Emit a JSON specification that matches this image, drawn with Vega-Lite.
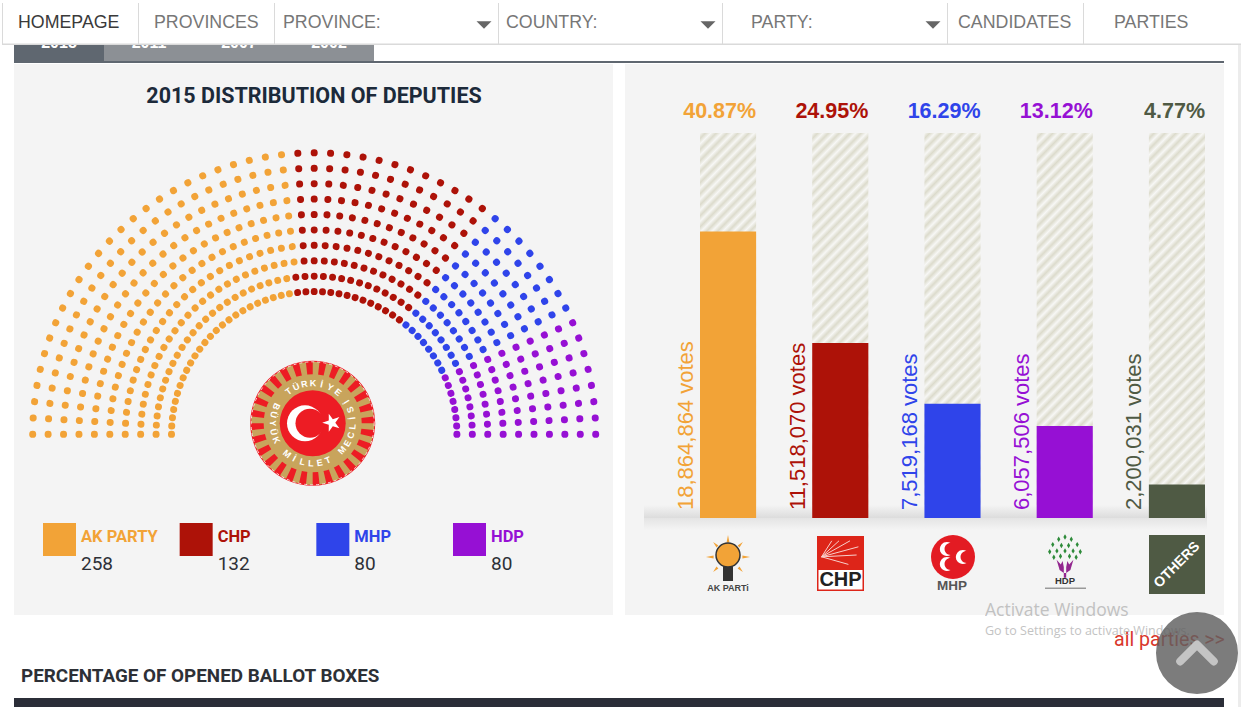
{"$schema":"https://vega.github.io/schema/vega-lite/v6.json","width":1241,"height":707,"padding":0,"autosize":{"type":"fit","contains":"padding"},"background":"#ffffff","config":{"view":{"stroke":null}},
"resolve":{"scale":{"x":"independent","y":"independent","fill":"independent","stroke":"independent","color":"independent","theta":"independent","radius":"independent","angle":"independent"}},
"datasets":{
"results":[{"party":"AK","share":0.4087,"votes":"18,864,864 votes"},{"party":"CHP","share":0.2495,"votes":"11,518,070 votes"},{"party":"MHP","share":0.1629,"votes":"7,519,168 votes"},{"party":"HDP","share":0.1312,"votes":"6,057,506 votes"},{"party":"OTHERS","share":0.0477,"votes":"2,200,031 votes"}],
"legend":[{"party":"AK PARTY","seats":258},{"party":"CHP","seats":132},{"party":"MHP","seats":80},{"party":"HDP","seats":80}],
"tabs":[{"year":"2015"},{"year":"2011"},{"year":"2007"},{"year":"2002"}],
"ring":[{"char":"T","pos":-37,"turn":323},{"char":"Ü","pos":-24.5,"turn":335.5},{"char":"R","pos":-12,"turn":348},{"char":"K","pos":0.5,"turn":0.5},{"char":"İ","pos":13,"turn":13},{"char":"Y","pos":26,"turn":26},{"char":"E","pos":39,"turn":39},{"char":"B","pos":-65,"turn":115},{"char":"Ü","pos":-77.5,"turn":102.5},{"char":"Y","pos":-90,"turn":90},{"char":"Ü","pos":-102.5,"turn":77.5},{"char":"K","pos":-115,"turn":65},{"char":"M","pos":-140,"turn":40},{"char":"İ","pos":-152.5,"turn":27.5},{"char":"L","pos":-165,"turn":15},{"char":"L","pos":-177.5,"turn":2.5},{"char":"E","pos":-190,"turn":350},{"char":"T","pos":-202.5,"turn":337.5},{"char":"M","pos":-227.5,"turn":312.5},{"char":"E","pos":-240,"turn":300},{"char":"C","pos":-252.5,"turn":287.5},{"char":"L","pos":-265,"turn":275},{"char":"İ","pos":-277.5,"turn":262.5},{"char":"S","pos":-290,"turn":250},{"char":"İ","pos":-302.5,"turn":237.5}],
"seats":[
{"party":"AK","row":0,"seat":0},{"party":"AK","row":0,"seat":1},{"party":"AK","row":0,"seat":2},{"party":"AK","row":0,"seat":3},{"party":"AK","row":0,"seat":4},{"party":"AK","row":0,"seat":5},{"party":"AK","row":0,"seat":6},{"party":"AK","row":0,"seat":7},{"party":"AK","row":0,"seat":8},{"party":"AK","row":0,"seat":9},{"party":"AK","row":0,"seat":10},{"party":"AK","row":0,"seat":11},{"party":"AK","row":0,"seat":12},{"party":"AK","row":0,"seat":13},{"party":"AK","row":0,"seat":14},{"party":"AK","row":0,"seat":15},{"party":"AK","row":0,"seat":16},{"party":"AK","row":0,"seat":17},{"party":"AK","row":0,"seat":18},{"party":"AK","row":0,"seat":19},{"party":"AK","row":0,"seat":20},{"party":"AK","row":0,"seat":21},{"party":"AK","row":0,"seat":22},{"party":"AK","row":0,"seat":23},{"party":"AK","row":0,"seat":24},{"party":"CHP","row":0,"seat":25},{"party":"CHP","row":0,"seat":26},{"party":"CHP","row":0,"seat":27},{"party":"CHP","row":0,"seat":28},{"party":"CHP","row":0,"seat":29},{"party":"CHP","row":0,"seat":30},{"party":"CHP","row":0,"seat":31},{"party":"CHP","row":0,"seat":32},{"party":"CHP","row":0,"seat":33},{"party":"CHP","row":0,"seat":34},{"party":"CHP","row":0,"seat":35},{"party":"CHP","row":0,"seat":36},{"party":"CHP","row":0,"seat":37},{"party":"CHP","row":0,"seat":38},{"party":"MHP","row":0,"seat":39},{"party":"MHP","row":0,"seat":40},{"party":"MHP","row":0,"seat":41},{"party":"MHP","row":0,"seat":42},{"party":"MHP","row":0,"seat":43},{"party":"MHP","row":0,"seat":44},{"party":"MHP","row":0,"seat":45},{"party":"MHP","row":0,"seat":46},{"party":"HDP","row":0,"seat":47},{"party":"HDP","row":0,"seat":48},{"party":"HDP","row":0,"seat":49},{"party":"HDP","row":0,"seat":50},{"party":"HDP","row":0,"seat":51},{"party":"HDP","row":0,"seat":52},{"party":"HDP","row":0,"seat":53},{"party":"HDP","row":0,"seat":54},
{"party":"AK","row":1,"seat":0},{"party":"AK","row":1,"seat":1},{"party":"AK","row":1,"seat":2},{"party":"AK","row":1,"seat":3},{"party":"AK","row":1,"seat":4},{"party":"AK","row":1,"seat":5},{"party":"AK","row":1,"seat":6},{"party":"AK","row":1,"seat":7},{"party":"AK","row":1,"seat":8},{"party":"AK","row":1,"seat":9},{"party":"AK","row":1,"seat":10},{"party":"AK","row":1,"seat":11},{"party":"AK","row":1,"seat":12},{"party":"AK","row":1,"seat":13},{"party":"AK","row":1,"seat":14},{"party":"AK","row":1,"seat":15},{"party":"AK","row":1,"seat":16},{"party":"AK","row":1,"seat":17},{"party":"AK","row":1,"seat":18},{"party":"AK","row":1,"seat":19},{"party":"AK","row":1,"seat":20},{"party":"AK","row":1,"seat":21},{"party":"AK","row":1,"seat":22},{"party":"AK","row":1,"seat":23},{"party":"AK","row":1,"seat":24},{"party":"CHP","row":1,"seat":25},{"party":"CHP","row":1,"seat":26},{"party":"CHP","row":1,"seat":27},{"party":"CHP","row":1,"seat":28},{"party":"CHP","row":1,"seat":29},{"party":"CHP","row":1,"seat":30},{"party":"CHP","row":1,"seat":31},{"party":"CHP","row":1,"seat":32},{"party":"CHP","row":1,"seat":33},{"party":"CHP","row":1,"seat":34},{"party":"CHP","row":1,"seat":35},{"party":"CHP","row":1,"seat":36},{"party":"CHP","row":1,"seat":37},{"party":"CHP","row":1,"seat":38},{"party":"MHP","row":1,"seat":39},{"party":"MHP","row":1,"seat":40},{"party":"MHP","row":1,"seat":41},{"party":"MHP","row":1,"seat":42},{"party":"MHP","row":1,"seat":43},{"party":"MHP","row":1,"seat":44},{"party":"MHP","row":1,"seat":45},{"party":"MHP","row":1,"seat":46},{"party":"HDP","row":1,"seat":47},{"party":"HDP","row":1,"seat":48},{"party":"HDP","row":1,"seat":49},{"party":"HDP","row":1,"seat":50},{"party":"HDP","row":1,"seat":51},{"party":"HDP","row":1,"seat":52},{"party":"HDP","row":1,"seat":53},{"party":"HDP","row":1,"seat":54},
{"party":"AK","row":2,"seat":0},{"party":"AK","row":2,"seat":1},{"party":"AK","row":2,"seat":2},{"party":"AK","row":2,"seat":3},{"party":"AK","row":2,"seat":4},{"party":"AK","row":2,"seat":5},{"party":"AK","row":2,"seat":6},{"party":"AK","row":2,"seat":7},{"party":"AK","row":2,"seat":8},{"party":"AK","row":2,"seat":9},{"party":"AK","row":2,"seat":10},{"party":"AK","row":2,"seat":11},{"party":"AK","row":2,"seat":12},{"party":"AK","row":2,"seat":13},{"party":"AK","row":2,"seat":14},{"party":"AK","row":2,"seat":15},{"party":"AK","row":2,"seat":16},{"party":"AK","row":2,"seat":17},{"party":"AK","row":2,"seat":18},{"party":"AK","row":2,"seat":19},{"party":"AK","row":2,"seat":20},{"party":"AK","row":2,"seat":21},{"party":"AK","row":2,"seat":22},{"party":"AK","row":2,"seat":23},{"party":"AK","row":2,"seat":24},{"party":"AK","row":2,"seat":25},{"party":"CHP","row":2,"seat":26},{"party":"CHP","row":2,"seat":27},{"party":"CHP","row":2,"seat":28},{"party":"CHP","row":2,"seat":29},{"party":"CHP","row":2,"seat":30},{"party":"CHP","row":2,"seat":31},{"party":"CHP","row":2,"seat":32},{"party":"CHP","row":2,"seat":33},{"party":"CHP","row":2,"seat":34},{"party":"CHP","row":2,"seat":35},{"party":"CHP","row":2,"seat":36},{"party":"CHP","row":2,"seat":37},{"party":"CHP","row":2,"seat":38},{"party":"MHP","row":2,"seat":39},{"party":"MHP","row":2,"seat":40},{"party":"MHP","row":2,"seat":41},{"party":"MHP","row":2,"seat":42},{"party":"MHP","row":2,"seat":43},{"party":"MHP","row":2,"seat":44},{"party":"MHP","row":2,"seat":45},{"party":"MHP","row":2,"seat":46},{"party":"HDP","row":2,"seat":47},{"party":"HDP","row":2,"seat":48},{"party":"HDP","row":2,"seat":49},{"party":"HDP","row":2,"seat":50},{"party":"HDP","row":2,"seat":51},{"party":"HDP","row":2,"seat":52},{"party":"HDP","row":2,"seat":53},{"party":"HDP","row":2,"seat":54},
{"party":"AK","row":3,"seat":0},{"party":"AK","row":3,"seat":1},{"party":"AK","row":3,"seat":2},{"party":"AK","row":3,"seat":3},{"party":"AK","row":3,"seat":4},{"party":"AK","row":3,"seat":5},{"party":"AK","row":3,"seat":6},{"party":"AK","row":3,"seat":7},{"party":"AK","row":3,"seat":8},{"party":"AK","row":3,"seat":9},{"party":"AK","row":3,"seat":10},{"party":"AK","row":3,"seat":11},{"party":"AK","row":3,"seat":12},{"party":"AK","row":3,"seat":13},{"party":"AK","row":3,"seat":14},{"party":"AK","row":3,"seat":15},{"party":"AK","row":3,"seat":16},{"party":"AK","row":3,"seat":17},{"party":"AK","row":3,"seat":18},{"party":"AK","row":3,"seat":19},{"party":"AK","row":3,"seat":20},{"party":"AK","row":3,"seat":21},{"party":"AK","row":3,"seat":22},{"party":"AK","row":3,"seat":23},{"party":"AK","row":3,"seat":24},{"party":"AK","row":3,"seat":25},{"party":"CHP","row":3,"seat":26},{"party":"CHP","row":3,"seat":27},{"party":"CHP","row":3,"seat":28},{"party":"CHP","row":3,"seat":29},{"party":"CHP","row":3,"seat":30},{"party":"CHP","row":3,"seat":31},{"party":"CHP","row":3,"seat":32},{"party":"CHP","row":3,"seat":33},{"party":"CHP","row":3,"seat":34},{"party":"CHP","row":3,"seat":35},{"party":"CHP","row":3,"seat":36},{"party":"CHP","row":3,"seat":37},{"party":"CHP","row":3,"seat":38},{"party":"MHP","row":3,"seat":39},{"party":"MHP","row":3,"seat":40},{"party":"MHP","row":3,"seat":41},{"party":"MHP","row":3,"seat":42},{"party":"MHP","row":3,"seat":43},{"party":"MHP","row":3,"seat":44},{"party":"MHP","row":3,"seat":45},{"party":"MHP","row":3,"seat":46},{"party":"HDP","row":3,"seat":47},{"party":"HDP","row":3,"seat":48},{"party":"HDP","row":3,"seat":49},{"party":"HDP","row":3,"seat":50},{"party":"HDP","row":3,"seat":51},{"party":"HDP","row":3,"seat":52},{"party":"HDP","row":3,"seat":53},{"party":"HDP","row":3,"seat":54},
{"party":"AK","row":4,"seat":0},{"party":"AK","row":4,"seat":1},{"party":"AK","row":4,"seat":2},{"party":"AK","row":4,"seat":3},{"party":"AK","row":4,"seat":4},{"party":"AK","row":4,"seat":5},{"party":"AK","row":4,"seat":6},{"party":"AK","row":4,"seat":7},{"party":"AK","row":4,"seat":8},{"party":"AK","row":4,"seat":9},{"party":"AK","row":4,"seat":10},{"party":"AK","row":4,"seat":11},{"party":"AK","row":4,"seat":12},{"party":"AK","row":4,"seat":13},{"party":"AK","row":4,"seat":14},{"party":"AK","row":4,"seat":15},{"party":"AK","row":4,"seat":16},{"party":"AK","row":4,"seat":17},{"party":"AK","row":4,"seat":18},{"party":"AK","row":4,"seat":19},{"party":"AK","row":4,"seat":20},{"party":"AK","row":4,"seat":21},{"party":"AK","row":4,"seat":22},{"party":"AK","row":4,"seat":23},{"party":"AK","row":4,"seat":24},{"party":"AK","row":4,"seat":25},{"party":"CHP","row":4,"seat":26},{"party":"CHP","row":4,"seat":27},{"party":"CHP","row":4,"seat":28},{"party":"CHP","row":4,"seat":29},{"party":"CHP","row":4,"seat":30},{"party":"CHP","row":4,"seat":31},{"party":"CHP","row":4,"seat":32},{"party":"CHP","row":4,"seat":33},{"party":"CHP","row":4,"seat":34},{"party":"CHP","row":4,"seat":35},{"party":"CHP","row":4,"seat":36},{"party":"CHP","row":4,"seat":37},{"party":"CHP","row":4,"seat":38},{"party":"MHP","row":4,"seat":39},{"party":"MHP","row":4,"seat":40},{"party":"MHP","row":4,"seat":41},{"party":"MHP","row":4,"seat":42},{"party":"MHP","row":4,"seat":43},{"party":"MHP","row":4,"seat":44},{"party":"MHP","row":4,"seat":45},{"party":"MHP","row":4,"seat":46},{"party":"HDP","row":4,"seat":47},{"party":"HDP","row":4,"seat":48},{"party":"HDP","row":4,"seat":49},{"party":"HDP","row":4,"seat":50},{"party":"HDP","row":4,"seat":51},{"party":"HDP","row":4,"seat":52},{"party":"HDP","row":4,"seat":53},{"party":"HDP","row":4,"seat":54},
{"party":"AK","row":5,"seat":0},{"party":"AK","row":5,"seat":1},{"party":"AK","row":5,"seat":2},{"party":"AK","row":5,"seat":3},{"party":"AK","row":5,"seat":4},{"party":"AK","row":5,"seat":5},{"party":"AK","row":5,"seat":6},{"party":"AK","row":5,"seat":7},{"party":"AK","row":5,"seat":8},{"party":"AK","row":5,"seat":9},{"party":"AK","row":5,"seat":10},{"party":"AK","row":5,"seat":11},{"party":"AK","row":5,"seat":12},{"party":"AK","row":5,"seat":13},{"party":"AK","row":5,"seat":14},{"party":"AK","row":5,"seat":15},{"party":"AK","row":5,"seat":16},{"party":"AK","row":5,"seat":17},{"party":"AK","row":5,"seat":18},{"party":"AK","row":5,"seat":19},{"party":"AK","row":5,"seat":20},{"party":"AK","row":5,"seat":21},{"party":"AK","row":5,"seat":22},{"party":"AK","row":5,"seat":23},{"party":"AK","row":5,"seat":24},{"party":"AK","row":5,"seat":25},{"party":"CHP","row":5,"seat":26},{"party":"CHP","row":5,"seat":27},{"party":"CHP","row":5,"seat":28},{"party":"CHP","row":5,"seat":29},{"party":"CHP","row":5,"seat":30},{"party":"CHP","row":5,"seat":31},{"party":"CHP","row":5,"seat":32},{"party":"CHP","row":5,"seat":33},{"party":"CHP","row":5,"seat":34},{"party":"CHP","row":5,"seat":35},{"party":"CHP","row":5,"seat":36},{"party":"CHP","row":5,"seat":37},{"party":"CHP","row":5,"seat":38},{"party":"MHP","row":5,"seat":39},{"party":"MHP","row":5,"seat":40},{"party":"MHP","row":5,"seat":41},{"party":"MHP","row":5,"seat":42},{"party":"MHP","row":5,"seat":43},{"party":"MHP","row":5,"seat":44},{"party":"MHP","row":5,"seat":45},{"party":"MHP","row":5,"seat":46},{"party":"HDP","row":5,"seat":47},{"party":"HDP","row":5,"seat":48},{"party":"HDP","row":5,"seat":49},{"party":"HDP","row":5,"seat":50},{"party":"HDP","row":5,"seat":51},{"party":"HDP","row":5,"seat":52},{"party":"HDP","row":5,"seat":53},{"party":"HDP","row":5,"seat":54},
{"party":"AK","row":6,"seat":0},{"party":"AK","row":6,"seat":1},{"party":"AK","row":6,"seat":2},{"party":"AK","row":6,"seat":3},{"party":"AK","row":6,"seat":4},{"party":"AK","row":6,"seat":5},{"party":"AK","row":6,"seat":6},{"party":"AK","row":6,"seat":7},{"party":"AK","row":6,"seat":8},{"party":"AK","row":6,"seat":9},{"party":"AK","row":6,"seat":10},{"party":"AK","row":6,"seat":11},{"party":"AK","row":6,"seat":12},{"party":"AK","row":6,"seat":13},{"party":"AK","row":6,"seat":14},{"party":"AK","row":6,"seat":15},{"party":"AK","row":6,"seat":16},{"party":"AK","row":6,"seat":17},{"party":"AK","row":6,"seat":18},{"party":"AK","row":6,"seat":19},{"party":"AK","row":6,"seat":20},{"party":"AK","row":6,"seat":21},{"party":"AK","row":6,"seat":22},{"party":"AK","row":6,"seat":23},{"party":"AK","row":6,"seat":24},{"party":"AK","row":6,"seat":25},{"party":"CHP","row":6,"seat":26},{"party":"CHP","row":6,"seat":27},{"party":"CHP","row":6,"seat":28},{"party":"CHP","row":6,"seat":29},{"party":"CHP","row":6,"seat":30},{"party":"CHP","row":6,"seat":31},{"party":"CHP","row":6,"seat":32},{"party":"CHP","row":6,"seat":33},{"party":"CHP","row":6,"seat":34},{"party":"CHP","row":6,"seat":35},{"party":"CHP","row":6,"seat":36},{"party":"CHP","row":6,"seat":37},{"party":"CHP","row":6,"seat":38},{"party":"MHP","row":6,"seat":39},{"party":"MHP","row":6,"seat":40},{"party":"MHP","row":6,"seat":41},{"party":"MHP","row":6,"seat":42},{"party":"MHP","row":6,"seat":43},{"party":"MHP","row":6,"seat":44},{"party":"MHP","row":6,"seat":45},{"party":"MHP","row":6,"seat":46},{"party":"HDP","row":6,"seat":47},{"party":"HDP","row":6,"seat":48},{"party":"HDP","row":6,"seat":49},{"party":"HDP","row":6,"seat":50},{"party":"HDP","row":6,"seat":51},{"party":"HDP","row":6,"seat":52},{"party":"HDP","row":6,"seat":53},{"party":"HDP","row":6,"seat":54},
{"party":"AK","row":7,"seat":0},{"party":"AK","row":7,"seat":1},{"party":"AK","row":7,"seat":2},{"party":"AK","row":7,"seat":3},{"party":"AK","row":7,"seat":4},{"party":"AK","row":7,"seat":5},{"party":"AK","row":7,"seat":6},{"party":"AK","row":7,"seat":7},{"party":"AK","row":7,"seat":8},{"party":"AK","row":7,"seat":9},{"party":"AK","row":7,"seat":10},{"party":"AK","row":7,"seat":11},{"party":"AK","row":7,"seat":12},{"party":"AK","row":7,"seat":13},{"party":"AK","row":7,"seat":14},{"party":"AK","row":7,"seat":15},{"party":"AK","row":7,"seat":16},{"party":"AK","row":7,"seat":17},{"party":"AK","row":7,"seat":18},{"party":"AK","row":7,"seat":19},{"party":"AK","row":7,"seat":20},{"party":"AK","row":7,"seat":21},{"party":"AK","row":7,"seat":22},{"party":"AK","row":7,"seat":23},{"party":"AK","row":7,"seat":24},{"party":"AK","row":7,"seat":25},{"party":"CHP","row":7,"seat":26},{"party":"CHP","row":7,"seat":27},{"party":"CHP","row":7,"seat":28},{"party":"CHP","row":7,"seat":29},{"party":"CHP","row":7,"seat":30},{"party":"CHP","row":7,"seat":31},{"party":"CHP","row":7,"seat":32},{"party":"CHP","row":7,"seat":33},{"party":"CHP","row":7,"seat":34},{"party":"CHP","row":7,"seat":35},{"party":"CHP","row":7,"seat":36},{"party":"CHP","row":7,"seat":37},{"party":"CHP","row":7,"seat":38},{"party":"MHP","row":7,"seat":39},{"party":"MHP","row":7,"seat":40},{"party":"MHP","row":7,"seat":41},{"party":"MHP","row":7,"seat":42},{"party":"MHP","row":7,"seat":43},{"party":"MHP","row":7,"seat":44},{"party":"MHP","row":7,"seat":45},{"party":"MHP","row":7,"seat":46},{"party":"HDP","row":7,"seat":47},{"party":"HDP","row":7,"seat":48},{"party":"HDP","row":7,"seat":49},{"party":"HDP","row":7,"seat":50},{"party":"HDP","row":7,"seat":51},{"party":"HDP","row":7,"seat":52},{"party":"HDP","row":7,"seat":53},{"party":"HDP","row":7,"seat":54},
{"party":"AK","row":8,"seat":0},{"party":"AK","row":8,"seat":1},{"party":"AK","row":8,"seat":2},{"party":"AK","row":8,"seat":3},{"party":"AK","row":8,"seat":4},{"party":"AK","row":8,"seat":5},{"party":"AK","row":8,"seat":6},{"party":"AK","row":8,"seat":7},{"party":"AK","row":8,"seat":8},{"party":"AK","row":8,"seat":9},{"party":"AK","row":8,"seat":10},{"party":"AK","row":8,"seat":11},{"party":"AK","row":8,"seat":12},{"party":"AK","row":8,"seat":13},{"party":"AK","row":8,"seat":14},{"party":"AK","row":8,"seat":15},{"party":"AK","row":8,"seat":16},{"party":"AK","row":8,"seat":17},{"party":"AK","row":8,"seat":18},{"party":"AK","row":8,"seat":19},{"party":"AK","row":8,"seat":20},{"party":"AK","row":8,"seat":21},{"party":"AK","row":8,"seat":22},{"party":"AK","row":8,"seat":23},{"party":"AK","row":8,"seat":24},{"party":"AK","row":8,"seat":25},{"party":"CHP","row":8,"seat":26},{"party":"CHP","row":8,"seat":27},{"party":"CHP","row":8,"seat":28},{"party":"CHP","row":8,"seat":29},{"party":"CHP","row":8,"seat":30},{"party":"CHP","row":8,"seat":31},{"party":"CHP","row":8,"seat":32},{"party":"CHP","row":8,"seat":33},{"party":"CHP","row":8,"seat":34},{"party":"CHP","row":8,"seat":35},{"party":"CHP","row":8,"seat":36},{"party":"CHP","row":8,"seat":37},{"party":"CHP","row":8,"seat":38},{"party":"MHP","row":8,"seat":39},{"party":"MHP","row":8,"seat":40},{"party":"MHP","row":8,"seat":41},{"party":"MHP","row":8,"seat":42},{"party":"MHP","row":8,"seat":43},{"party":"MHP","row":8,"seat":44},{"party":"MHP","row":8,"seat":45},{"party":"MHP","row":8,"seat":46},{"party":"HDP","row":8,"seat":47},{"party":"HDP","row":8,"seat":48},{"party":"HDP","row":8,"seat":49},{"party":"HDP","row":8,"seat":50},{"party":"HDP","row":8,"seat":51},{"party":"HDP","row":8,"seat":52},{"party":"HDP","row":8,"seat":53},{"party":"HDP","row":8,"seat":54},
{"party":"AK","row":9,"seat":0},{"party":"AK","row":9,"seat":1},{"party":"AK","row":9,"seat":2},{"party":"AK","row":9,"seat":3},{"party":"AK","row":9,"seat":4},{"party":"AK","row":9,"seat":5},{"party":"AK","row":9,"seat":6},{"party":"AK","row":9,"seat":7},{"party":"AK","row":9,"seat":8},{"party":"AK","row":9,"seat":9},{"party":"AK","row":9,"seat":10},{"party":"AK","row":9,"seat":11},{"party":"AK","row":9,"seat":12},{"party":"AK","row":9,"seat":13},{"party":"AK","row":9,"seat":14},{"party":"AK","row":9,"seat":15},{"party":"AK","row":9,"seat":16},{"party":"AK","row":9,"seat":17},{"party":"AK","row":9,"seat":18},{"party":"AK","row":9,"seat":19},{"party":"AK","row":9,"seat":20},{"party":"AK","row":9,"seat":21},{"party":"AK","row":9,"seat":22},{"party":"AK","row":9,"seat":23},{"party":"AK","row":9,"seat":24},{"party":"AK","row":9,"seat":25},{"party":"CHP","row":9,"seat":26},{"party":"CHP","row":9,"seat":27},{"party":"CHP","row":9,"seat":28},{"party":"CHP","row":9,"seat":29},{"party":"CHP","row":9,"seat":30},{"party":"CHP","row":9,"seat":31},{"party":"CHP","row":9,"seat":32},{"party":"CHP","row":9,"seat":33},{"party":"CHP","row":9,"seat":34},{"party":"CHP","row":9,"seat":35},{"party":"CHP","row":9,"seat":36},{"party":"CHP","row":9,"seat":37},{"party":"CHP","row":9,"seat":38},{"party":"MHP","row":9,"seat":39},{"party":"MHP","row":9,"seat":40},{"party":"MHP","row":9,"seat":41},{"party":"MHP","row":9,"seat":42},{"party":"MHP","row":9,"seat":43},{"party":"MHP","row":9,"seat":44},{"party":"MHP","row":9,"seat":45},{"party":"MHP","row":9,"seat":46},{"party":"HDP","row":9,"seat":47},{"party":"HDP","row":9,"seat":48},{"party":"HDP","row":9,"seat":49},{"party":"HDP","row":9,"seat":50},{"party":"HDP","row":9,"seat":51},{"party":"HDP","row":9,"seat":52},{"party":"HDP","row":9,"seat":53},{"party":"HDP","row":9,"seat":54}
]},
"layer":[
{"data":{"values":[{"panel":"deputies"}]},"mark":{"type":"rect","x":14,"x2":613,"y":64,"y2":615,"fill":"#f4f4f4"},"encoding":{}},
{"data":{"values":[{"panel":"votes"}]},"mark":{"type":"rect","x":625,"x2":1224,"y":64,"y2":615,"fill":"#f4f4f4"},"encoding":{}},
{"data":{"name":"tabs"},"mark":{"type":"rect","y":30,"y2":62},"encoding":{"x":{"field":"year","type":"nominal","sort":null,"axis":null,"scale":{"type":"band","domain":["2015","2011","2007","2002"],"range":[14,374],"padding":0}},"fill":{"field":"year","type":"nominal","legend":null,"scale":{"domain":["2015","2011","2007","2002"],"range":["#5f6770","#8c9095","#8c9095","#8c9095"]}}}},
{"data":{"name":"tabs"},"mark":{"type":"text","y":48,"baseline":"alphabetic","font":"Liberation Sans","fontSize":16,"fontWeight":"bold","fill":"#ffffff"},"encoding":{"x":{"field":"year","type":"nominal","sort":null,"axis":null,"scale":{"type":"band","domain":["2015","2011","2007","2002"],"range":[14,374],"padding":0}},"text":{"field":"year"}}},
{"data":{"values":[{"part":"rule"}]},"mark":{"type":"rect","x":14,"x2":1224,"y":61,"y2":63,"fill":"#5f6770"},"encoding":{}},
{"data":{"values":[{"part":"nav"}]},"mark":{"type":"rect","x":0,"x2":1241,"y":0,"y2":44,"fill":"#ffffff"},"encoding":{}},
{"data":{"values":[{"part":"nav"}]},"mark":{"type":"rect","x":2,"x2":1241,"y":43.5,"y2":45,"fill":"#dadada"},"encoding":{}},
{"data":{"values":[{"part":"scroll"}]},"mark":{"type":"rect","x":1238,"x2":1241,"y":45,"y2":707,"fill":"#ececec"},"encoding":{}},
{"data":{"values":[{"sep":1}]},"mark":{"type":"rect","x":2,"x2":3,"y":3,"y2":44,"fill":"#dadada"},"encoding":{}},
{"data":{"values":[{"sep":2}]},"mark":{"type":"rect","x":138,"x2":139,"y":3,"y2":44,"fill":"#dadada"},"encoding":{}},
{"data":{"values":[{"sep":3}]},"mark":{"type":"rect","x":274,"x2":275,"y":3,"y2":44,"fill":"#dadada"},"encoding":{}},
{"data":{"values":[{"sep":4}]},"mark":{"type":"rect","x":498,"x2":499,"y":3,"y2":44,"fill":"#dadada"},"encoding":{}},
{"data":{"values":[{"sep":5}]},"mark":{"type":"rect","x":722,"x2":723,"y":3,"y2":44,"fill":"#dadada"},"encoding":{}},
{"data":{"values":[{"sep":6}]},"mark":{"type":"rect","x":947,"x2":948,"y":3,"y2":44,"fill":"#dadada"},"encoding":{}},
{"data":{"values":[{"sep":7}]},"mark":{"type":"rect","x":1083,"x2":1084,"y":3,"y2":44,"fill":"#dadada"},"encoding":{}},
{"data":{"values":[{"label":"HOMEPAGE"}]},"mark":{"type":"text","x":18,"y":23,"align":"left","font":"Liberation Sans","fontSize":17.8,"fill":"#3a3a3a"},"encoding":{"text":{"field":"label"}}},
{"data":{"values":[{"label":"PROVINCES"}]},"mark":{"type":"text","x":154,"y":23,"align":"left","font":"Liberation Sans","fontSize":17.8,"fill":"#777777"},"encoding":{"text":{"field":"label"}}},
{"data":{"values":[{"label":"PROVINCE:"}]},"mark":{"type":"text","x":283,"y":23,"align":"left","font":"Liberation Sans","fontSize":17.8,"fill":"#777777"},"encoding":{"text":{"field":"label"}}},
{"data":{"values":[{"label":"COUNTRY:"}]},"mark":{"type":"text","x":506,"y":23,"align":"left","font":"Liberation Sans","fontSize":17.8,"fill":"#777777"},"encoding":{"text":{"field":"label"}}},
{"data":{"values":[{"label":"PARTY:"}]},"mark":{"type":"text","x":751,"y":23,"align":"left","font":"Liberation Sans","fontSize":17.8,"fill":"#777777"},"encoding":{"text":{"field":"label"}}},
{"data":{"values":[{"label":"CANDIDATES"}]},"mark":{"type":"text","x":958,"y":23,"align":"left","font":"Liberation Sans","fontSize":17.8,"fill":"#777777"},"encoding":{"text":{"field":"label"}}},
{"data":{"values":[{"label":"PARTIES"}]},"mark":{"type":"text","x":1114,"y":23,"align":"left","font":"Liberation Sans","fontSize":17.8,"fill":"#777777"},"encoding":{"text":{"field":"label"}}},
{"data":{"values":[{"arrow":1}]},"mark":{"type":"point","filled":true,"shape":"M-1 -.5L1 -.5L0 .5Z","size":225,"x":484,"y":25,"fill":"#666666","opacity":1},"encoding":{}},
{"data":{"values":[{"arrow":2}]},"mark":{"type":"point","filled":true,"shape":"M-1 -.5L1 -.5L0 .5Z","size":225,"x":708,"y":25,"fill":"#666666","opacity":1},"encoding":{}},
{"data":{"values":[{"arrow":3}]},"mark":{"type":"point","filled":true,"shape":"M-1 -.5L1 -.5L0 .5Z","size":225,"x":933,"y":25,"fill":"#666666","opacity":1},"encoding":{}},
{"data":{"values":[{"title":"2015 DISTRIBUTION OF DEPUTIES"}]},"mark":{"type":"text","x":314,"y":97,"font":"Roboto","fontSize":21.5,"fontWeight":"bold","fill":"#1c2a3a"},"encoding":{"text":{"field":"title"}}},
{"data":{"name":"seats"},"mark":{"type":"arc","x":314.2,"y":434.3,"fill":null,"strokeWidth":6.7,"strokeCap":"round","strokeJoin":"round"},"encoding":{"theta":{"field":"seat","type":"ordinal","stack":null,"sort":null,"scale":{"type":"band","domain":[0,1,2,3,4,5,6,7,8,9,10,11,12,13,14,15,16,17,18,19,20,21,22,23,24,25,26,27,28,29,30,31,32,33,34,35,36,37,38,39,40,41,42,43,44,45,46,47,48,49,50,51,52,53,54],"range":[-1.59989,1.59989],"paddingInner":0.98,"paddingOuter":0.49}},"radius":{"field":"row","type":"ordinal","sort":null,"scale":{"type":"band","domain":[0,1,2,3,4,5,6,7,8,9],"range":[134.99,289.21],"paddingInner":0.98,"paddingOuter":0.49}},"stroke":{"field":"party","type":"nominal","legend":null,"scale":{"domain":["AK","CHP","MHP","HDP"],"range":["#f2a337","#ad1208","#2f44ea","#9610d4"]}}}},
{"data":{"values":[{"emblem":"disc"}]},"mark":{"type":"point","filled":true,"shape":"circle","size":15625,"x":312.7,"y":423.3,"fill":"#ed1c24","opacity":1},"encoding":{}},
{"data":{"values":[{"emblem":"rays"}]},"mark":{"type":"point","filled":false,"shape":"circle","size":11664,"x":312.7,"y":423.3,"stroke":"#c8a45c","strokeWidth":15,"strokeDash":[6,6.1],"fill":null,"opacity":1},"encoding":{}},
{"data":{"values":[{"emblem":"edge"}]},"mark":{"type":"point","filled":false,"shape":"circle","size":15129,"x":312.7,"y":423.3,"stroke":"#ffffff","strokeWidth":1,"strokeDash":[3,3],"fill":null,"opacity":0.8},"encoding":{}},
{"data":{"values":[{"emblem":"ring"}]},"mark":{"type":"point","filled":true,"shape":"circle","size":9604,"x":312.7,"y":423.3,"fill":"#c8a45c","opacity":1},"encoding":{}},
{"data":{"values":[{"emblem":"field"}]},"mark":{"type":"point","filled":true,"shape":"circle","size":4356,"x":312.7,"y":423.3,"fill":"#ed1c24","opacity":1},"encoding":{}},
{"data":{"values":[{"emblem":"moon"}]},"mark":{"type":"point","filled":true,"shape":"circle","size":1296,"x":305,"y":423.3,"fill":"#ffffff","opacity":1},"encoding":{}},
{"data":{"values":[{"emblem":"moon cut"}]},"mark":{"type":"point","filled":true,"shape":"circle","size":841,"x":310,"y":423.3,"fill":"#ed1c24","opacity":1},"encoding":{}},
{"data":{"values":[{"emblem":"star"}]},"mark":{"type":"point","filled":true,"shape":"M-1 0L-.307 .223L-.309 .951L.117 .361L.809 .588L.38 0L.809 -.588L.117 -.361L-.309 -.951L-.307 -.223Z","size":361,"x":331.7,"y":422.7,"fill":"#ffffff","opacity":1},"encoding":{}},
{"data":{"name":"ring"},"mark":{"type":"text","x":312.7,"y":423.3,"font":"Liberation Sans","fontSize":9,"fontWeight":"bold","fill":"#ffffff","align":"center","baseline":"middle"},"encoding":{"theta":{"field":"pos","type":"quantitative","stack":null,"scale":{"domain":[-360,360],"range":[-6.2832,6.2832]}},"radius":{"value":40},"angle":{"field":"turn","type":"quantitative","scale":{"domain":[0,360],"range":[0,360]}},"text":{"field":"char"}}},
{"data":{"name":"legend"},"mark":{"type":"point","filled":true,"shape":"square","size":1089,"y":539.5,"opacity":1},"encoding":{"x":{"field":"party","type":"nominal","sort":null,"axis":null,"scale":{"type":"point","domain":["AK PARTY","CHP","MHP","HDP"],"range":[59.5,469.5],"padding":0}},"fill":{"field":"party","type":"nominal","legend":null,"scale":{"domain":["AK PARTY","CHP","MHP","HDP"],"range":["#f2a337","#ad1208","#2f44ea","#9610d4"]}}}},
{"data":{"name":"legend"},"mark":{"type":"text","y":537,"dx":21.5,"align":"left","baseline":"middle","font":"Roboto","fontSize":16.5,"fontWeight":"bold"},"encoding":{"x":{"field":"party","type":"nominal","sort":null,"axis":null,"scale":{"type":"point","domain":["AK PARTY","CHP","MHP","HDP"],"range":[59.5,469.5],"padding":0}},"text":{"field":"party"},"fill":{"field":"party","type":"nominal","legend":null,"scale":{"domain":["AK PARTY","CHP","MHP","HDP"],"range":["#f2a337","#ad1208","#2f44ea","#9610d4"]}}}},
{"data":{"name":"legend"},"mark":{"type":"text","y":564,"dx":21.5,"align":"left","baseline":"middle","font":"Roboto","fontSize":19,"fill":"#2d3036"},"encoding":{"x":{"field":"party","type":"nominal","sort":null,"axis":null,"scale":{"type":"point","domain":["AK PARTY","CHP","MHP","HDP"],"range":[59.5,469.5],"padding":0}},"text":{"field":"seats"}}},
{"data":{"name":"results"},"mark":{"type":"rect","y":133,"y2":518,"fill":{"gradient":"linear","x1":0,"y1":0,"x2":0.1663,"y2":1.1234,"stops":[{"offset":0,"color":"#f7f7f5"},{"offset":0.0125,"color":"#dcdbcc"},{"offset":0.025,"color":"#f7f7f5"},{"offset":0.0375,"color":"#dcdbcc"},{"offset":0.05,"color":"#f7f7f5"},{"offset":0.0625,"color":"#dcdbcc"},{"offset":0.075,"color":"#f7f7f5"},{"offset":0.0875,"color":"#dcdbcc"},{"offset":0.1,"color":"#f7f7f5"},{"offset":0.1125,"color":"#dcdbcc"},{"offset":0.125,"color":"#f7f7f5"},{"offset":0.1375,"color":"#dcdbcc"},{"offset":0.15,"color":"#f7f7f5"},{"offset":0.1625,"color":"#dcdbcc"},{"offset":0.175,"color":"#f7f7f5"},{"offset":0.1875,"color":"#dcdbcc"},{"offset":0.2,"color":"#f7f7f5"},{"offset":0.2125,"color":"#dcdbcc"},{"offset":0.225,"color":"#f7f7f5"},{"offset":0.2375,"color":"#dcdbcc"},{"offset":0.25,"color":"#f7f7f5"},{"offset":0.2625,"color":"#dcdbcc"},{"offset":0.275,"color":"#f7f7f5"},{"offset":0.2875,"color":"#dcdbcc"},{"offset":0.3,"color":"#f7f7f5"},{"offset":0.3125,"color":"#dcdbcc"},{"offset":0.325,"color":"#f7f7f5"},{"offset":0.3375,"color":"#dcdbcc"},{"offset":0.35,"color":"#f7f7f5"},{"offset":0.3625,"color":"#dcdbcc"},{"offset":0.375,"color":"#f7f7f5"},{"offset":0.3875,"color":"#dcdbcc"},{"offset":0.4,"color":"#f7f7f5"},{"offset":0.4125,"color":"#dcdbcc"},{"offset":0.425,"color":"#f7f7f5"},{"offset":0.4375,"color":"#dcdbcc"},{"offset":0.45,"color":"#f7f7f5"},{"offset":0.4625,"color":"#dcdbcc"},{"offset":0.475,"color":"#f7f7f5"},{"offset":0.4875,"color":"#dcdbcc"},{"offset":0.5,"color":"#f7f7f5"},{"offset":0.5125,"color":"#dcdbcc"},{"offset":0.525,"color":"#f7f7f5"},{"offset":0.5375,"color":"#dcdbcc"},{"offset":0.55,"color":"#f7f7f5"},{"offset":0.5625,"color":"#dcdbcc"},{"offset":0.575,"color":"#f7f7f5"},{"offset":0.5875,"color":"#dcdbcc"},{"offset":0.6,"color":"#f7f7f5"},{"offset":0.6125,"color":"#dcdbcc"},{"offset":0.625,"color":"#f7f7f5"},{"offset":0.6375,"color":"#dcdbcc"},{"offset":0.65,"color":"#f7f7f5"},{"offset":0.6625,"color":"#dcdbcc"},{"offset":0.675,"color":"#f7f7f5"},{"offset":0.6875,"color":"#dcdbcc"},{"offset":0.7,"color":"#f7f7f5"},{"offset":0.7125,"color":"#dcdbcc"},{"offset":0.725,"color":"#f7f7f5"},{"offset":0.7375,"color":"#dcdbcc"},{"offset":0.75,"color":"#f7f7f5"},{"offset":0.7625,"color":"#dcdbcc"},{"offset":0.775,"color":"#f7f7f5"},{"offset":0.7875,"color":"#dcdbcc"},{"offset":0.8,"color":"#f7f7f5"},{"offset":0.8125,"color":"#dcdbcc"},{"offset":0.825,"color":"#f7f7f5"},{"offset":0.8375,"color":"#dcdbcc"},{"offset":0.85,"color":"#f7f7f5"},{"offset":0.8625,"color":"#dcdbcc"},{"offset":0.875,"color":"#f7f7f5"},{"offset":0.8875,"color":"#dcdbcc"},{"offset":0.9,"color":"#f7f7f5"},{"offset":0.9125,"color":"#dcdbcc"},{"offset":0.925,"color":"#f7f7f5"},{"offset":0.9375,"color":"#dcdbcc"},{"offset":0.95,"color":"#f7f7f5"},{"offset":0.9625,"color":"#dcdbcc"},{"offset":0.975,"color":"#f7f7f5"},{"offset":0.9875,"color":"#dcdbcc"},{"offset":1,"color":"#f7f7f5"}]}},"encoding":{"x":{"field":"party","type":"nominal","sort":null,"axis":null,"scale":{"type":"band","domain":["AK","CHP","MHP","HDP","OTHERS"],"range":[700,1205],"paddingInner":0.5,"paddingOuter":0}}}},
{"data":{"values":[{"part":"shadow above"}]},"mark":{"type":"rect","x":644,"x2":1207,"y":505,"y2":518,"fill":{"gradient":"linear","x1":0,"y1":0,"x2":0,"y2":1,"stops":[{"offset":0,"color":"#f4f4f4"},{"offset":1,"color":"#dcdcdc"}]}},"encoding":{}},
{"data":{"values":[{"part":"shadow below"}]},"mark":{"type":"rect","x":644,"x2":1207,"y":518,"y2":530,"fill":{"gradient":"linear","x1":0,"y1":0,"x2":0,"y2":1,"stops":[{"offset":0,"color":"#e4e4e4"},{"offset":1,"color":"#f4f4f4"}]}},"encoding":{}},
{"data":{"name":"results"},"mark":{"type":"bar"},"encoding":{"x":{"field":"party","type":"nominal","sort":null,"axis":null,"scale":{"type":"band","domain":["AK","CHP","MHP","HDP","OTHERS"],"range":[700,1205],"paddingInner":0.5,"paddingOuter":0}},"y":{"field":"share","type":"quantitative","stack":null,"axis":null,"scale":{"domain":[0,0.549],"range":[518,133]}},"fill":{"field":"party","type":"nominal","legend":null,"scale":{"domain":["AK","CHP","MHP","HDP","OTHERS"],"range":["#f2a337","#ad1208","#2f44ea","#9610d4","#4f5a44"]}}}},
{"data":{"name":"results"},"mark":{"type":"text","y":112,"align":"right","baseline":"middle","font":"Liberation Sans","fontSize":21.5,"fontWeight":"bold"},"encoding":{"x":{"field":"party","type":"nominal","sort":null,"bandPosition":1,"axis":null,"scale":{"type":"band","domain":["AK","CHP","MHP","HDP","OTHERS"],"range":[700,1205],"paddingInner":0.5,"paddingOuter":0}},"text":{"field":"share","format":".2%"},"fill":{"field":"party","type":"nominal","legend":null,"scale":{"domain":["AK","CHP","MHP","HDP","OTHERS"],"range":["#f2a337","#ad1208","#2f44ea","#9610d4","#4f5a44"]}}}},
{"data":{"name":"results"},"mark":{"type":"text","y":510,"dy":-14.5,"angle":270,"align":"left","baseline":"middle","font":"Liberation Sans","fontSize":22},"encoding":{"x":{"field":"party","type":"nominal","sort":null,"bandPosition":0,"axis":null,"scale":{"type":"band","domain":["AK","CHP","MHP","HDP","OTHERS"],"range":[700,1205],"paddingInner":0.5,"paddingOuter":0}},"text":{"field":"votes"},"fill":{"field":"party","type":"nominal","legend":null,"scale":{"domain":["AK","CHP","MHP","HDP","OTHERS"],"range":["#f2a337","#ad1208","#2f44ea","#9610d4","#4f5a44"]}}}},
{"data":{"values":[{"logo":"AK rays"}]},"mark":{"type":"point","filled":true,"shape":"M0 -.92L.06 -.6L-.06 -.6ZM.92 0L.6 .06L.6 -.06ZM-.92 0L-.6 .06L-.6 -.06ZM.62 -.62L.4 -.48L.48 -.4ZM-.62 -.62L-.4 -.48L-.48 -.4ZM.62 .62L.4 .48L.48 .4ZM-.62 .62L-.4 .48L-.48 .4Z","size":2304,"x":728,"y":557,"fill":"#f2a337","opacity":1},"encoding":{}},
{"data":{"values":[{"logo":"AK neck"}]},"mark":{"type":"rect","x":723,"x2":733,"y":564,"y2":581,"fill":"#333333"},"encoding":{}},
{"data":{"values":[{"logo":"AK bulb"}]},"mark":{"type":"point","filled":true,"shape":"circle","size":576,"x":728,"y":555,"fill":"#f2a337","stroke":"#333333","strokeWidth":1.5,"opacity":1},"encoding":{}},
{"data":{"values":[{"logo":"AK PARTi"}]},"mark":{"type":"text","x":728,"y":588,"font":"Liberation Sans","fontSize":9,"fontWeight":"bold","fill":"#444444"},"encoding":{"text":{"field":"logo"}}},
{"data":{"values":[{"logo":"CHP box"}]},"mark":{"type":"rect","x":817,"x2":864,"y":536,"y2":591,"fill":"#dd2519"},"encoding":{}},
{"data":{"values":[{"logo":"CHP rays"}]},"mark":{"type":"point","filled":false,"shape":"M-.92 .24L-.41 -.56M-.92 .24L-.05 -.56M-.92 .24L.5 -.56M-.92 .24L.92 -.26M-.92 .24L.83 .15M-.92 .24L.42 .62","size":1600,"x":840,"y":552,"stroke":"#f8d0cc","strokeWidth":1,"fill":null,"opacity":1},"encoding":{}},
{"data":{"values":[{"logo":"CHP panel"}]},"mark":{"type":"rect","x":818.5,"x2":862.5,"y":570,"y2":589.5,"fill":"#ffffff"},"encoding":{}},
{"data":{"values":[{"logo":"CHP"}]},"mark":{"type":"text","x":840.5,"y":580,"font":"Liberation Sans","fontSize":20,"fontWeight":"bold","fill":"#222222"},"encoding":{"text":{"field":"logo"}}},
{"data":{"values":[{"logo":"MHP disc"}]},"mark":{"type":"point","filled":true,"shape":"circle","size":1936,"x":953,"y":557,"fill":"#e31b23","opacity":1},"encoding":{}},
{"data":{"values":[{"logo":"MHP moon"}]},"mark":{"type":"point","filled":true,"shape":"M.5 -.85A1 1 0 1 0 .5 .85A.75 .75 0 1 1 .5 -.85Z","size":196,"x":947,"y":549,"fill":"#ffffff","opacity":1},"encoding":{}},
{"data":{"values":[{"logo":"MHP moon"}]},"mark":{"type":"point","filled":true,"shape":"M.5 -.85A1 1 0 1 0 .5 .85A.75 .75 0 1 1 .5 -.85Z","size":196,"x":947,"y":564,"fill":"#ffffff","opacity":1},"encoding":{}},
{"data":{"values":[{"logo":"MHP moon"}]},"mark":{"type":"point","filled":true,"shape":"M.5 -.85A1 1 0 1 0 .5 .85A.75 .75 0 1 1 .5 -.85Z","size":196,"x":963,"y":557,"fill":"#ffffff","opacity":1},"encoding":{}},
{"data":{"values":[{"logo":"MHP"}]},"mark":{"type":"text","x":952,"y":586,"font":"Liberation Sans","fontSize":13.5,"fontWeight":"bold","fill":"#555555"},"encoding":{"text":{"field":"logo"}}},
{"data":{"values":[{"logo":"HDP tree"}]},"mark":{"type":"point","filled":true,"shape":"M0 -.87L.09 -.72L0 -.57L-.09 -.72ZM-.35 -.75L-.26 -.6L-.35 -.45L-.44 -.6ZM.35 -.75L.44 -.6L.35 -.45L.26 -.6ZM-.68 -.45L-.59 -.3L-.68 -.15L-.77 -.3ZM.68 -.45L.77 -.3L.68 -.15L.59 -.3ZM-.2 -.4L-.11 -.25L-.2 -.1L-.29 -.25ZM.2 -.4L.29 -.25L.2 -.1L.11 -.25ZM-.85 -.05L-.76 .1L-.85 .25L-.94 .1ZM.85 -.05L.94 .1L.85 .25L.76 .1ZM-.45 -.1L-.36 .05L-.45 .2L-.54 .05ZM.45 -.1L.54 .05L.45 .2L.36 .05ZM0 -.1L.09 .05L0 .2L-.09 .05ZM-.62 .25L-.53 .4L-.62 .55L-.71 .4ZM.62 .25L.71 .4L.62 .55L.53 .4ZM-.25 .2L-.16 .35L-.25 .5L-.34 .35ZM.25 .2L.34 .35L.25 .5L.16 .35Z","size":1296,"x":1065,"y":550,"fill":"#2e8b3a","opacity":1},"encoding":{}},
{"data":{"values":[{"logo":"HDP hands"}]},"mark":{"type":"point","filled":true,"shape":"M-.7 -.6L-.35 -.2L-.2 -.5L-.1 0L-.1 .9L.1 .9L.1 0L.2 -.5L.35 -.2L.7 -.6L.45 .25L.1 .5L-.1 .5L-.45 .25Z","size":576,"x":1065,"y":567,"fill":"#93278f","opacity":1},"encoding":{}},
{"data":{"values":[{"logo":"HDP"}]},"mark":{"type":"text","x":1065,"y":581,"font":"Liberation Sans","fontSize":9.5,"fontWeight":"bold","fill":"#333333"},"encoding":{"text":{"field":"logo"}}},
{"data":{"values":[{"logo":"HDP caption"}]},"mark":{"type":"rect","x":1045,"x2":1086,"y":587.5,"y2":589,"fill":"#999999"},"encoding":{}},
{"data":{"values":[{"logo":"others box"}]},"mark":{"type":"rect","x":1149,"x2":1205,"y":535,"y2":594,"fill":"#4f5a44"},"encoding":{}},
{"data":{"values":[{"logo":"OTHERS"}]},"mark":{"type":"text","x":1177,"y":565,"angle":315,"font":"Liberation Sans","fontSize":14,"fontWeight":"bold","fill":"#ffffff"},"encoding":{"text":{"field":"logo"}}},
{"data":{"values":[{"title":"PERCENTAGE OF OPENED BALLOT BOXES"}]},"mark":{"type":"text","x":21,"y":676,"align":"left","font":"Roboto","fontSize":18.85,"fontWeight":"bold","fill":"#2d3036"},"encoding":{"text":{"field":"title"}}},
{"data":{"values":[{"part":"table head"}]},"mark":{"type":"rect","x":14,"x2":1224,"y":698,"y2":707,"fill":"#2b2e38"},"encoding":{}},
{"data":{"values":[{"label":"all parties >>"}]},"mark":{"type":"text","x":1114,"y":640,"align":"left","font":"Roboto","fontSize":19.6,"fill":"#d9372c"},"encoding":{"text":{"field":"label"}}},
{"data":{"values":[{"label":"Activate Windows"}]},"mark":{"type":"text","x":985,"y":611,"align":"left","font":"Open Sans","fontSize":17.5,"fill":"#b9b9b9","opacity":0.85},"encoding":{"text":{"field":"label"}}},
{"data":{"values":[{"label":"Go to Settings to activate Windows."}]},"mark":{"type":"text","x":985,"y":631,"align":"left","font":"Open Sans","fontSize":12.5,"fill":"#b9b9b9","opacity":0.85},"encoding":{"text":{"field":"label"}}},
{"data":{"values":[{"part":"to top"}]},"mark":{"type":"point","filled":true,"shape":"circle","size":6724,"x":1197,"y":653,"fill":"#5f5f5f","opacity":0.82},"encoding":{}},
{"data":{"values":[{"part":"to top chevron"}]},"mark":{"type":"point","filled":false,"shape":"M-.8 .4L0 -.4L.8 .4","size":1764,"x":1197,"y":653,"stroke":"#c4c4c4","strokeWidth":8,"strokeCap":"round","strokeJoin":"round","fill":null,"opacity":1},"encoding":{}}
]}
